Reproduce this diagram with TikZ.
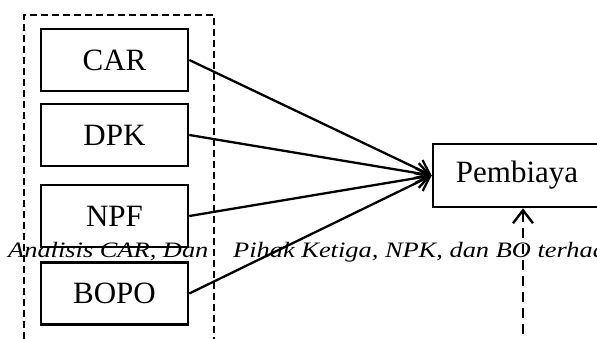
\documentclass[tikz,border=0pt]{standalone}
\usepackage{fontspec}
\setmainfont{Liberation Serif}
\usetikzlibrary{arrows.meta}
\begin{document}
\begin{tikzpicture}[x=1pt,y=-1pt,
  varbox/.style={draw,line width=2.6pt,minimum width=147pt,minimum height=62pt,
    inner sep=0pt,font=\fontsize{31}{36}\selectfont},
  arrowline/.style={line width=2.3pt,-{Straight Barb[length=13pt,width=20pt,line width=2.3pt]}},
  frameline/.style={line width=2.7pt,dash pattern=on 7pt off 4pt},
  dasharrow/.style={line width=2.7pt,dash pattern=on 10pt off 6pt,
    -{Straight Barb[length=13pt,width=20pt,line width=2.4pt]}},
  caption/.style={font=\fontsize{22}{26}\selectfont\itshape,inner sep=0pt,anchor=base west}]
\useasboundingbox (0,0) rectangle (597,339);
\clip (0,0) rectangle (597,339);

% independent variables
\node[varbox] (car)  at (114.5,60)   {CAR};
\node[varbox] (dpk)  at (114.5,135)  {DPK};
\node[varbox] (npf)  at (114.5,216)  {NPF};
\node[varbox] (bopo) at (114.5,293.5){BOPO};

% dependent variable
\node[varbox,minimum width=168pt,minimum height=63pt] (pb) at (517,175.5) {Pembiaya};

% running caption line across the diagram
\node[caption] (capa) at (8,258) {\scalebox{1.2}[1]{Analisis CAR, Dan}};
\node[caption] (capb) at (233,258) {\scalebox{1.2}[1]{Pihak Ketiga, NPK, dan BO terhadap}};

% dashed grouping frame, open at the bottom
\coordinate (fbl) at (24,350);
\coordinate (ftl) at (24,15);
\coordinate (ftr) at (214,15);
\coordinate (fbr) at (214,350);
\draw[frameline] (fbl) -- (ftl) -- (ftr) -- (fbr);

% effects
\foreach \v in {car,dpk,npf,bopo}
  \draw[arrowline] (\v.east) -- (pb.west);

% moderating path from below
\coordinate (mod) at (523,350);
\draw[dasharrow] (mod) -- (mod |- pb.south);
\end{tikzpicture}
\end{document}
